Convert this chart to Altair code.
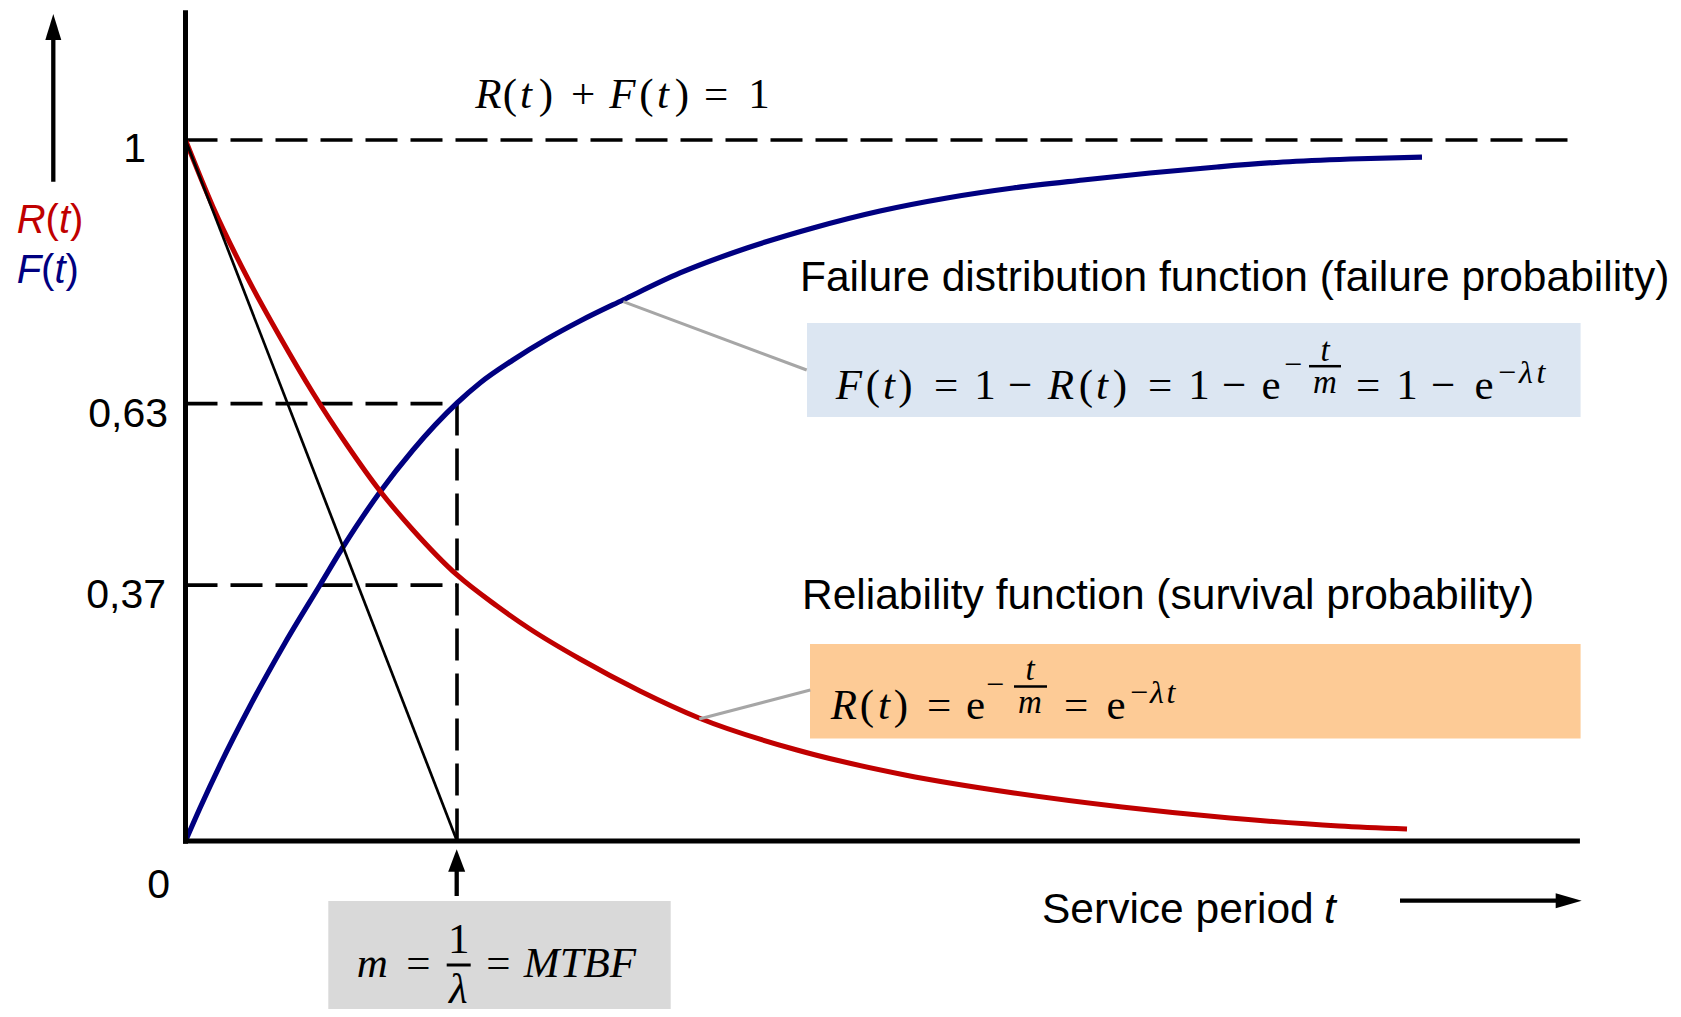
import altair as alt
import pandas as pd

# ---------------- values ----------------
# t is the service period in units of m (= MTBF), values are probabilities
F_T = [0.0, 0.0534, 0.1271, 0.2376, 0.3665, 0.4954, 0.5801, 0.7164, 0.8379, 1.0,
       1.0847, 1.2063, 1.3315, 1.4531, 1.6114, 1.8214, 2.0681, 2.3112, 2.5580,
       2.8048, 3.0479, 3.3057, 3.5525, 3.7993, 4.0424, 4.2891, 4.5543]
F_V = [0.0, 0.0471, 0.1084, 0.1926, 0.2825, 0.3652, 0.4194, 0.4979, 0.5578, 0.6248,
       0.6534, 0.6862, 0.7161, 0.7418, 0.7718, 0.8103, 0.8459, 0.8745, 0.8987,
       0.9173, 0.9315, 0.9429, 0.9529, 0.9615, 0.9686, 0.9729, 0.9757]
R_T = [0.0, 0.1013, 0.2265, 0.3481, 0.4696, 0.5948, 0.7164, 0.8379, 1.0, 1.1473,
       1.2689, 1.4530, 1.6740, 1.8913, 2.2523, 2.6501, 3.0516, 3.4494, 3.8471,
       4.2486, 4.4991]
R_V = [1.0, 0.9044, 0.8046, 0.7190, 0.6391, 0.5649, 0.4993, 0.4437, 0.3795, 0.3352,
       0.3024, 0.2596, 0.2140, 0.1755, 0.1298, 0.0942, 0.0685, 0.0485, 0.0328,
       0.0214, 0.0171]
TANGENT_T = [0.0, 1.0]
TANGENT_V = [1.0, 0.0]
LEVELS = [1.0, 0.624, 0.365]          # dashed reference levels as drawn
M_T = 1.0                             # t = m
TICK_TEXT = ["1", "0,63", "0,37", "0"]
AXIS_T_END = 5.136
AXIS_V_END = 1.185

RED = "#C00000"
NAVY = "#000080"
GREY_LINE = "#A6A6A6"

# ---------------- layout (page pixels -> chart units) ----------------
W, H = 1665, 1001
X0, KX = 185.5, 271.5
Y0, KY = 841.0, 701.0


def T(px):
    return (px - X0) / KX


def V(py):
    return (Y0 - py) / KY


XS = alt.Scale(domain=[T(8), T(8 + W)], nice=False, zero=False)
YS = alt.Scale(domain=[V(8 + H), V(8)], nice=False, zero=False)


def X(f="x"):
    return alt.X(f"{f}:Q", scale=XS, axis=None)


def Y(f="y"):
    return alt.Y(f"{f}:Q", scale=YS, axis=None)


# ---------------- text pieces ----------------
rows = []


def txt(group, text, px, py, size, color="black"):
    rows.append(dict(g=group, text=text, x=T(px), y=V(py), size=size, color=color))


# tick labels
txt("sans_r", TICK_TEXT[0], 146, 162, 41)
txt("sans_r", TICK_TEXT[1], 168, 427, 41)
txt("sans_r", TICK_TEXT[2], 166, 607.5, 41)
txt("sans_r", TICK_TEXT[3], 170, 898, 41)

# R(t) / F(t) axis label
txt("sans_il", "R", 16.7, 233, 40, RED)
txt("sans_l", "(", 45.6, 233, 40, RED)
txt("sans_il", "t", 58.9, 233, 40, RED)
txt("sans_l", ")", 70.0, 233, 40, RED)
txt("sans_il", "F", 16.7, 283, 40, NAVY)
txt("sans_l", "(", 41.1, 283, 40, NAVY)
txt("sans_il", "t", 54.4, 283, 40, NAVY)
txt("sans_l", ")", 65.5, 283, 40, NAVY)

# curve captions
txt("sans_l", "Failure distribution function (failure probability)", 800, 291, 42.5)
txt("sans_l", "Reliability function (survival probability)", 802, 609, 42.5)
txt("sans_l", "Service period", 1042, 923, 42.5)
txt("sans_il", "t", 1324, 923, 42.5)

FS = 43      # formula size
SS = 32      # script size

# R(t) + F(t) = 1
for s, px in [("R", 488.5), ("t", 526), ("F", 622.5), ("t", 663)]:
    txt("serif_ic", s, px, 108, FS)
for s, px in [("(", 510), (")", 546), ("+", 583), ("(", 646.5), (")", 682),
              ("=", 716), ("1", 759)]:
    txt("serif_c", s, px, 108, FS)

# F(t) = 1 - R(t) = 1 - e^(-t/m) = 1 - e^(-lambda t)
BB = 399
for s, px in [("F", 849), ("t", 889), ("R", 1061), ("t", 1102)]:
    txt("serif_ic", s, px, BB, FS)
for s, px in [("(", 873), (")", 905.5), ("=", 946), ("1", 985), ("\u2212", 1020),
              ("(", 1086), (")", 1120), ("=", 1160), ("1", 1199), ("\u2212", 1234),
              ("e", 1271), ("=", 1368), ("1", 1407), ("\u2212", 1443), ("e", 1484)]:
    txt("serif_c", s, px, BB, FS)
txt("serif_c", "\u2212", 1293, 374.5, SS)
txt("serif_ic", "t", 1325, 361, 33)
txt("serif_ic", "m", 1325, 393, 33)
txt("serif_c", "\u2212", 1507, 383, SS)
txt("serif_ic", "\u03bb", 1526, 383, SS)
txt("serif_ic", "t", 1541, 383, SS)

# R(t) = e^(-t/m) = e^(-lambda t)
OB = 719
for s, px in [("R", 844), ("t", 884)]:
    txt("serif_ic", s, px, OB, FS)
for s, px in [("(", 867), (")", 901), ("=", 939), ("e", 975.5), ("=", 1076), ("e", 1116)]:
    txt("serif_c", s, px, OB, FS)
txt("serif_c", "\u2212", 995, 694.5, SS)
txt("serif_ic", "t", 1030, 680, 33)
txt("serif_ic", "m", 1030, 713, 33)
txt("serif_c", "\u2212", 1139, 703, SS)
txt("serif_ic", "\u03bb", 1157, 703, SS)
txt("serif_ic", "t", 1171, 703, SS)

# m = 1/lambda = MTBF
txt("serif_ic", "m", 372.3, 976.7, FS)
txt("serif_c", "=", 418.3, 976.7, FS)
txt("serif_c", "1", 458.7, 953, FS)
txt("serif_ic", "\u03bb", 458.3, 1003, FS)
txt("serif_c", "=", 498.3, 976.7, FS)
txt("serif_ic", "MTBF", 580, 976.7, FS)

labels = pd.DataFrame(rows)


def text_layer(group, font, style, align):
    return alt.Chart(labels[labels.g == group]).mark_text(
        font=font, fontStyle=style, align=align, baseline="alphabetic"
    ).encode(
        x=X(), y=Y(), text="text:N",
        size=alt.Size("size:Q", scale=None, legend=None),
        color=alt.Color("color:N", scale=None, legend=None),
    )


# ---------------- boxes ----------------
boxes = pd.DataFrame(dict(
    x=[T(807), T(810), T(328.3)], x2=[T(1580.6), T(1580.6), T(670.7)],
    y=[V(323), V(644), V(901)], y2=[V(417), V(738.5), V(1009)],
    fill=["#DCE6F2", "#FDCB96", "#D9D9D9"]))
box_layer = alt.Chart(boxes).mark_rect().encode(
    x=X(), x2="x2:Q", y=Y(), y2="y2:Q",
    color=alt.Color("fill:N", scale=None, legend=None))

# ---------------- dashed reference lines ----------------
dashed = pd.DataFrame(dict(
    x=[0.0, 0.0, 0.0, M_T], x2=[AXIS_T_END, M_T, M_T, M_T],
    y=[LEVELS[0], LEVELS[1], LEVELS[2], LEVELS[1]], y2=[LEVELS[0], LEVELS[1], LEVELS[2], 0.0]))
dashed_layer = alt.Chart(dashed).mark_rule(
    color="black", strokeWidth=3.6, strokeDash=[32, 13]
).encode(x=X(), x2="x2:Q", y=Y(), y2="y2:Q")

# ---------------- curves ----------------
fdf = pd.DataFrame(dict(t=F_T, v=F_V, i=range(len(F_T))))
rdf = pd.DataFrame(dict(t=R_T, v=R_V, i=range(len(R_T))))
tdf = pd.DataFrame(dict(t=TANGENT_T, v=TANGENT_V, i=[0, 1]))
f_layer = alt.Chart(fdf).mark_line(color=NAVY, strokeWidth=5.2, interpolate="monotone").encode(
    x=X("t"), y=Y("v"), order="i:Q")
r_layer = alt.Chart(rdf).mark_line(color=RED, strokeWidth=5.0, interpolate="monotone").encode(
    x=X("t"), y=Y("v"), order="i:Q")
t_layer = alt.Chart(tdf).mark_line(color="black", strokeWidth=2.7).encode(
    x=X("t"), y=Y("v"), order="i:Q")

# ---------------- solid rules: axes, arrow shafts, connectors, fraction bars ----------------
solid = pd.DataFrame([
    dict(x=0.0, x2=0.0, y=-0.004, y2=AXIS_V_END, w=5.0, c="black"),
    dict(x=-0.009, x2=AXIS_T_END, y=0.0, y2=0.0, w=5.0, c="black"),
    dict(x=T(53.3), x2=T(53.3), y=V(181.7), y2=V(38), w=4.3, c="black"),
    dict(x=T(456.7), x2=T(456.7), y=V(896), y2=V(870), w=4.3, c="black"),
    dict(x=T(1400), x2=T(1557), y=V(900.7), y2=V(900.7), w=4.3, c="black"),
    dict(x=T(623.3), x2=T(806.7), y=V(301.7), y2=V(370), w=3.0, c=GREY_LINE),
    dict(x=T(699.2), x2=T(810.3), y=V(719), y2=V(690), w=3.0, c=GREY_LINE),
    dict(x=T(1309), x2=T(1341), y=V(366.2), y2=V(366.2), w=2.5, c="black"),
    dict(x=T(1014), x2=T(1047), y=V(686.5), y2=V(686.5), w=2.5, c="black"),
    dict(x=T(446.7), x2=T(470.7), y=V(965), y2=V(965), w=3.0, c="black"),
])
solid_layer = alt.Chart(solid).mark_rule().encode(
    x=X(), x2="x2:Q", y=Y(), y2="y2:Q",
    strokeWidth=alt.StrokeWidth("w:Q", scale=None, legend=None),
    color=alt.Color("c:N", scale=None, legend=None))

# ---------------- arrow heads ----------------
heads = pd.DataFrame(dict(
    x=[T(53.3), T(456.7), T(1568.7)], y=[V(27), V(860.5), V(900.7)],
    shape=["M0,-1L0.615,1L-0.615,1Z", "M0,-1L0.76,1L-0.76,1Z", "M1,0L-1,0.58L-1,-0.58Z"],
    size=[676, 502, 676]))
head_layer = alt.Chart(heads).mark_point(filled=True, color="black", opacity=1, strokeWidth=0).encode(
    x=X(), y=Y(),
    shape=alt.Shape("shape:N", scale=None, legend=None),
    size=alt.Size("size:Q", scale=None, legend=None))

SANS = "Liberation Sans"
SERIF = "Liberation Serif"
chart = alt.layer(
    box_layer, dashed_layer, f_layer, r_layer, t_layer, solid_layer, head_layer,
    text_layer("sans_l", SANS, "normal", "left"),
    text_layer("sans_r", SANS, "normal", "right"),
    text_layer("sans_il", SANS, "italic", "left"),
    text_layer("serif_c", SERIF, "normal", "center"),
    text_layer("serif_ic", SERIF, "italic", "center"),
).properties(
    width=W, height=H, autosize=alt.AutoSizeParams(type="none"), padding=0
).configure_view(stroke=None)

chart.save("out.html", embed_options={"renderer": "svg", "actions": False})
